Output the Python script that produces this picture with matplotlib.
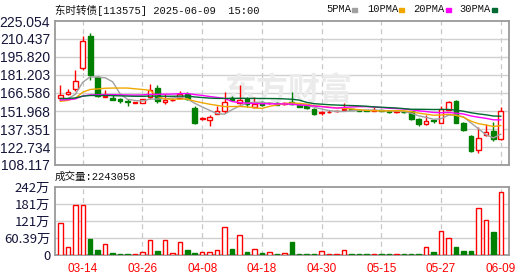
import matplotlib
matplotlib.use("Agg")
import matplotlib.pyplot as plt
from matplotlib.patches import Rectangle
import numpy as np
import pandas as pd

# Daily candles, 2025-03-11 .. 2025-06-09 (60 trading days)
opens = [162.2, 165.4, 169.8, 186.6, 213.1, 179.3, 163.6, 162.8, 161.4, 160.3,
         158.5, 158.5, 163.3, 170.6, 159.3, 160.6, 162.3, 165.8, 154.4, 145.6,
         144.3, 149.8, 151.6, 162.6, 158.5, 161.8, 155.0, 159.0, 158.2, 158.5,
         157.3, 159.0, 156.5, 155.7, 153.6, 150.3, 150.9, 151.8, 152.4, 153.3,
         152.8, 152.5, 152.3, 152.5, 151.6, 150.9, 151.5, 151.7, 145.7, 141.4,
         144.4, 142.2, 153.0, 160.3, 142.5, 131.9, 120.5, 132.8, 135.4, 128.9]
highs = [173.3, 170.0, 185.5, 212.5, 215.3, 180.6, 169.3, 166.0, 162.8, 162.0,
         159.3, 161.9, 174.1, 172.8, 166.0, 162.5, 168.4, 167.4, 155.7, 147.0,
         149.0, 155.7, 167.8, 164.0, 172.8, 163.0, 163.0, 159.8, 159.5, 159.3,
         159.5, 167.1, 157.0, 156.0, 154.0, 152.0, 153.0, 152.8, 158.5, 153.6,
         153.2, 152.8, 155.2, 152.9, 152.0, 152.0, 151.8, 152.0, 146.0, 148.9,
         145.5, 155.7, 160.0, 161.1, 143.0, 132.5, 139.0, 141.4, 143.2, 155.0]
lows = [161.1, 165.0, 167.9, 185.5, 176.8, 163.0, 163.0, 160.5, 158.1, 156.3,
        158.2, 158.2, 162.0, 158.7, 157.9, 159.8, 162.0, 161.0, 141.4, 144.5,
        139.5, 149.5, 150.3, 159.8, 158.0, 154.9, 154.4, 155.7, 157.5, 156.5,
        156.8, 157.0, 155.0, 153.8, 148.9, 149.0, 150.0, 151.5, 151.6, 152.5,
        152.0, 151.7, 152.0, 151.8, 150.5, 150.5, 150.5, 144.5, 139.5, 140.3,
        142.0, 142.0, 152.5, 142.0, 136.0, 119.0, 118.1, 131.4, 127.8, 128.5]
closes = [165.0, 167.0, 176.6, 209.1, 180.9, 163.8, 164.2, 160.6, 159.8, 159.0,
          158.9, 161.7, 169.0, 159.8, 160.9, 161.0, 165.4, 161.7, 142.2, 146.0,
          147.1, 152.2, 159.3, 160.5, 161.1, 157.5, 157.6, 157.2, 158.6, 157.1,
          158.7, 157.7, 155.5, 154.1, 149.5, 151.0, 151.4, 152.3, 153.6, 152.8,
          152.3, 152.0, 153.0, 152.0, 150.8, 151.7, 150.8, 145.5, 141.6, 144.1,
          144.0, 153.6, 159.5, 142.2, 136.5, 119.7, 130.0, 135.1, 129.2, 151.6]
# volume in 万 (10k)
volumes = [112, 29, 179, 177, 57, 18, 38, 7, 3.5, 3.5,
           3.5, 10.6, 55, 14, 52, 7, 46, 18, 7, 10.6,
           10.6, 16.5, 98, 21, 71, 10.6, 20, 7, 9.4, 3.5,
           7, 46, 3.5, 3.5, 3.5, 12.7, 3.5, 3.5, 16, 3.5,
           3.5, 3.5, 3.5, 3.5, 3.5, 3.5, 3.5, 3.5, 3.5, 27,
           10.6, 84, 62, 28, 15, 15, 168, 126, 81, 224.3]
# closes before the window, only used to seed the moving averages
prior_closes = [165.5, 164.8, 165.2, 164.1, 164.6, 163.9, 164.3, 165.0, 164.2, 163.6,
                162.8, 163.1, 162.0, 162.5, 161.8, 162.2, 161.5, 162.0, 161.2, 160.6,
                159.8, 159.2, 159.6, 158.9, 159.4, 158.7, 159.3, 159.5, 159.1]

date_ticks = [3, 11, 19, 27, 35, 43, 51, 59]
date_labels = ['03-14', '03-26', '04-08', '04-18', '04-30', '05-15', '05-27', '06-09']

price_ticks = [108.117, 122.734, 137.351, 151.968, 166.586, 181.203, 195.820, 210.437, 225.054]
vol_ticks = [0, 60.39, 120.78, 181.17, 241.56]
vol_labels = ['0', '60.39万', '121万', '181万', '242万']

ma_periods = [5, 10, 20, 30]
ma_names = ['5PMA', '10PMA', '20PMA', '30PMA']
ma_colors = ['#A0A0A0', '#F0A800', '#FF00FF', '#006A32']

RED = '#FF0000'
GREEN = '#008000'
GRID = '#D0D0D0'
FRAME = '#9A9A9A'
LABEL = '#15153A'
CJK = ['Noto Sans CJK SC', 'DejaVu Sans']
MONO = ['Liberation Mono', 'Noto Sans CJK SC']

n = len(closes)
x = np.arange(n)
up = np.array(closes) >= np.array(opens)

fig = plt.figure(figsize=(5.3, 2.76), dpi=100)
W, H = 530, 276
def box(l, t, r, b):
    return [l / W, 1 - b / H, (r - l) / W, (b - t) / H]

ax = fig.add_axes(box(55, 21, 509, 165))
axv = fig.add_axes(box(55, 187, 509, 255))
xlim = (-0.72, 60.1)

for a in (ax, axv):
    a.set_xlim(*xlim)
    for s in a.spines.values():
        s.set_color(FRAME)
        s.set_linewidth(1.3)
    a.tick_params(length=0)
    for t in date_ticks:
        a.axvline(t, color='#C8C8C8', lw=0.9, ls=(0, (4, 3)), zorder=0)

# price panel
ax.set_ylim(price_ticks[0], price_ticks[-1])
ax.set_yticks(price_ticks)
ax.set_yticklabels(['%.3f' % v for v in price_ticks], family='Liberation Sans',
                   fontsize=10, color=LABEL)
ax.set_xticks([])
for v in price_ticks[1:-1]:
    ax.axhline(v, color=GRID, lw=1, zorder=0)

ax.text(30.5, 167.5, '东方财富', family=CJK, fontsize=23, fontweight='bold',
        color='#EBEBEB', ha='center', va='center', zorder=0.5)

w = 0.62
for i in range(n):
    c = RED if up[i] else GREEN
    ax.vlines(i, lows[i], highs[i], color=c, lw=1, zorder=3)
    lo = min(opens[i], closes[i])
    hgt = max(abs(closes[i] - opens[i]), 0.15)
    ax.add_patch(Rectangle((i - w / 2, lo), w, hgt, facecolor='white' if up[i] else GREEN,
                           edgecolor=c, lw=1, zorder=4))

all_close = pd.Series(prior_closes + closes)
for p, col in zip(ma_periods, ma_colors):
    ma = all_close.rolling(p).mean().values[len(prior_closes):]
    ax.plot(x, ma, color=col, lw=1, zorder=5)

# volume panel
axv.set_ylim(vol_ticks[0], vol_ticks[-1])
axv.set_yticks(vol_ticks)
axv.set_yticklabels(vol_labels, family=CJK, fontsize=9.5, color=LABEL)
for v in vol_ticks[1:-1]:
    axv.axhline(v, color=GRID, lw=1, zorder=0)
axv.bar(x, volumes, width=0.6, color=np.where(up, 'white', GREEN),
        edgecolor=np.where(up, RED, GREEN), lw=1, zorder=3)
axv.set_xticks(date_ticks)
axv.set_xticklabels(date_labels, family='Liberation Sans', fontsize=8.5, color=RED)
axv.tick_params(axis='x', pad=6)

# header texts
fig.text(55 / W, 1 - 10 / H, '东时转债[113575] 2025-06-09  15:00', family=MONO,
         fontsize=7.6, color='#111111', va='center', ha='left')
fig.text(55 / W, 1 - 177 / H, '成交量:2243058', family=MONO, fontsize=7.6,
         color='#111111', va='center', ha='left')

leg_x = [326, 367, 413, 459]
sq_x = [352, 399, 446, 492]
for name, col, tx, sx in zip(ma_names, ma_colors, leg_x, sq_x):
    fig.text(tx / W, 1 - 9 / H, name, family='Liberation Mono', fontsize=7.5,
             color='#111111', va='center', ha='left')
    fig.patches.append(Rectangle((sx / W, 1 - 11.5 / H), 5 / W, 4 / H, color=col,
                                 transform=fig.transFigure, figure=fig))

fig.savefig('out.png', dpi=100, facecolor='white')
